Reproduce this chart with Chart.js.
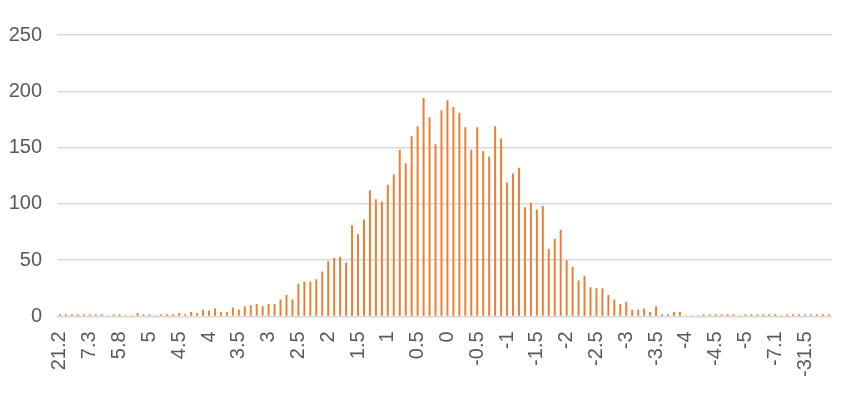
<!DOCTYPE html>
<html>
<head>
<meta charset="utf-8">
<script src="https://cdn.jsdelivr.net/npm/chart.js@4"></script>
<style>
    html, body { margin: 0; padding: 0; background: #fff; }
    #wrap { width: 854px; height: 394px; }
</style>
</head>
<body>
<div id="wrap"><canvas id="histChart"></canvas></div>
<script>
const binLabels = [
    "21.2", "15.4", "11", "9.2", "8.1", "7.3", "6.9", "6.5", "6.2", "6",
    "5.8", "5.6", "5.4", "5.2", "5.1", "5", "4.9", "4.8", "4.7", "4.6",
    "4.5", "4.4", "4.3", "4.2", "4.1", "4", "3.9", "3.8", "3.7", "3.6",
    "3.5", "3.4", "3.3", "3.2", "3.1", "3", "2.9", "2.8", "2.7", "2.6",
    "2.5", "2.4", "2.3", "2.2", "2.1", "2", "1.9", "1.8", "1.7", "1.6",
    "1.5", "1.4", "1.3", "1.2", "1.1", "1", "0.9", "0.8", "0.7", "0.6",
    "0.5", "0.4", "0.3", "0.2", "0.1", "0", "-0.1", "-0.2", "-0.3", "-0.4",
    "-0.5", "-0.6", "-0.7", "-0.8", "-0.9", "-1", "-1.1", "-1.2", "-1.3", "-1.4",
    "-1.5", "-1.6", "-1.7", "-1.8", "-1.9", "-2", "-2.1", "-2.2", "-2.3", "-2.4",
    "-2.5", "-2.6", "-2.7", "-2.8", "-2.9", "-3", "-3.1", "-3.2", "-3.3", "-3.4",
    "-3.5", "-3.6", "-3.7", "-3.8", "-3.9", "-4", "-4.1", "-4.2", "-4.3", "-4.4",
    "-4.5", "-4.6", "-4.7", "-4.8", "-4.9", "-5", "-5.1", "-5.3", "-5.6", "-6.2",
    "-7.1", "-8.4", "-10.3", "-13.6", "-19.8", "-31.5", "-36.2", "-44.7", "-58.1", "-87.3"
];

const counts = [
    2, 2, 2, 2, 2, 2, 2, 2, 1, 2,
    2, 1, 1, 3, 2, 2, 1, 2, 2, 2,
    3, 2, 4, 3, 6, 5, 7, 4, 4, 8,
    6, 9, 10, 11, 9, 11, 11, 15, 19, 15,
    29, 31, 31, 33, 40, 49, 52, 53, 48, 81,
    73, 86, 112, 104, 102, 117, 126, 148, 136, 160,
    169, 194, 177, 153, 183, 192, 186, 181, 168, 148,
    168, 147, 142, 169, 158, 119, 127, 132, 97, 101,
    95, 98, 60, 69, 77, 50, 44, 32, 36, 26,
    25, 25, 19, 15, 11, 13, 6, 6, 7, 4,
    9, 2, 2, 4, 4, 1, 1, 1, 2, 2,
    2, 2, 2, 2, 1, 2, 2, 2, 2, 2,
    2, 1, 2, 2, 2, 2, 2, 2, 2, 2
];

const yTicks = [0, 50, 100, 150, 200, 250];
const labelEvery = 5;

new Chart(document.getElementById("histChart"), {
    type: "bar",
    data: {
        labels: binLabels,
        datasets: [{
            data: counts,
            backgroundColor: "#ED7D31",
            categoryPercentage: 1,
            barPercentage: 0.33
        }]
    },
    options: {
        responsive: true,
        maintainAspectRatio: false,
        animation: false,
        layout: { padding: { left: 7, right: 19, top: 35, bottom: 2 } },
        plugins: { legend: { display: false }, tooltip: { enabled: false } },
        scales: {
            x: {
                grid: { display: false, drawTicks: false },
                border: { display: false },
                ticks: {
                    autoSkip: false,
                    maxRotation: 90,
                    minRotation: 90,
                    padding: 15,
                    color: "#595959",
                    font: { family: "Liberation Sans", size: 20, lineHeight: 0.5 },
                    callback: function (value, index) {
                        return index % labelEvery === 0 ? this.getLabelForValue(value) : "";
                    }
                }
            },
            y: {
                min: yTicks[0],
                max: yTicks[yTicks.length - 1],
                afterBuildTicks: axis => { axis.ticks = yTicks.map(v => ({ value: v })); },
                afterFit: axis => { axis.width = 50; },
                grid: { color: "#d9d9d9", lineWidth: 1.5, drawTicks: false },
                border: { display: false },
                ticks: {
                    padding: 15,
                    color: "#595959",
                    font: { family: "Liberation Sans", size: 20 }
                }
            }
        }
    }
});
</script>
</body>
</html>
